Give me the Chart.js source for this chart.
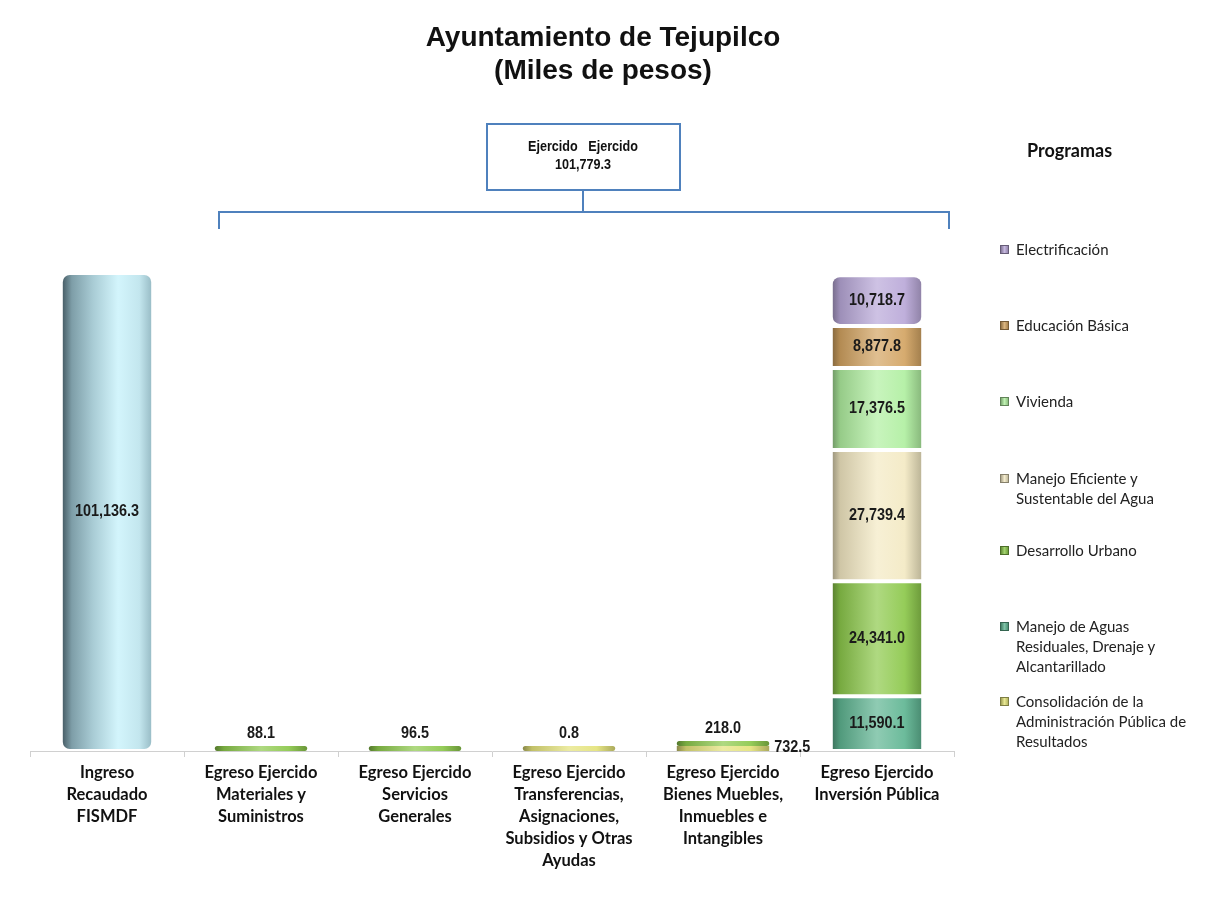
<!DOCTYPE html>
<html>
<head>
<meta charset="utf-8">
<script src="https://cdn.jsdelivr.net/npm/chart.js@4"></script>
<style>
  html,body{margin:0;padding:0;background:#fff;}
  #wrap{position:relative;width:1206px;height:905px;overflow:hidden;}
  #c{position:absolute;left:0;top:0;}
  #title{position:absolute;left:0;top:20px;width:1206px;text-align:center;font-family:"Liberation Sans",Arial,sans-serif;font-weight:bold;font-size:28px;line-height:33px;color:#111;}
  .lg{position:absolute;left:1000px;font-family:Lato,"Open Sans",sans-serif;font-size:15px;color:#222;line-height:20px;}
  .lg .sw{position:absolute;left:0;top:6px;width:7px;height:7px;border:1px solid #666;}
  .lg .tx{position:absolute;left:16px;top:0;white-space:nowrap;}
  #prog{position:absolute;left:1027px;top:139px;font-family:Lato,"Open Sans",sans-serif;font-weight:bold;font-size:18px;color:#111;}
</style>
</head>
<body>
<div id="wrap">
<canvas id="c" width="1206" height="905"></canvas>
<div id="title"></div>
<div id="prog">Programas</div>
<div id="legend"></div>
</div>
<script>
// ---- DATA ----
const titleLines = ["Ayuntamiento de Tejupilco", "(Miles de pesos)"];
const categories = [
  ["Ingreso", "Recaudado", "FISMDF"],
  ["Egreso Ejercido", "Materiales y", "Suministros"],
  ["Egreso Ejercido", "Servicios", "Generales"],
  ["Egreso Ejercido", "Transferencias,", "Asignaciones,", "Subsidios y Otras", "Ayudas"],
  ["Egreso Ejercido", "Bienes Muebles,", "Inmuebles e", "Intangibles"],
  ["Egreso Ejercido", "Inversión Pública"]
];
const totalLabel = ["Ejercido   Ejercido", "101,779.3"];
const ingresoValues      = [101136.3, null, null, null, null, null];
const consolidacionValues = [null, null, null, 0.8, 732.5, null];
const aguasValues        = [null, null, null, null, null, 11590.1];
const desarrolloValues   = [null, 88.1, 96.5, null, 218.0, 24341.0];
const aguaEficienteValues = [null, null, null, null, null, 27739.4];
const viviendaValues     = [null, null, null, null, null, 17376.5];
const educacionValues    = [null, null, null, null, null, 8877.8];
const electrificacionValues = [null, null, null, null, null, 10718.7];

const seriesNames = {
  ingreso: "Ingreso Recaudado FISMDF",
  consolidacion: "Consolidación de la Administración Pública de Resultados",
  aguas: "Manejo de Aguas Residuales, Drenaje y Alcantarillado",
  desarrollo: "Desarrollo Urbano",
  eficiente: "Manejo Eficiente y Sustentable del Agua",
  vivienda: "Vivienda",
  educacion: "Educación Básica",
  electrificacion: "Electrificación"
};

// ---- STYLE ----
const colors = {
  ingreso: "#a9d9e4",
  consolidacion: "#e4e37a",
  aguas: "#5fb592",
  desarrollo: "#8cc84b",
  eficiente: "#f3e9c3",
  vivienda: "#b0efa0",
  educacion: "#d2a462",
  electrificacion: "#b9a8d8"
};

document.getElementById('title').innerHTML = titleLines.join('<br>');

function hexToRgb(h){h=h.replace('#','');return [parseInt(h.substr(0,2),16),parseInt(h.substr(2,2),16),parseInt(h.substr(4,2),16)];}
function mix(h, t){
  const c = hexToRgb(h);
  const r = c.map(v => t<0 ? Math.round(v*(1+t)) : Math.round(v+(255-v)*t));
  return `rgb(${r[0]},${r[1]},${r[2]})`;
}
function cylinder(base, isIngreso){
  return function(ctx){
    const chart = ctx.chart;
    const xs = chart.scales && chart.scales.x;
    if (!chart.chartArea || !xs || ctx.type !== 'data') return base;
    const cx = xs.getPixelForValue(ctx.dataIndex);
    const w = (xs.width / categories.length) * 0.6;
    const g = chart.ctx.createLinearGradient(cx - w/2, 0, cx + w/2, 0);
    if (isIngreso){
      g.addColorStop(0, "#3e525b");
      g.addColorStop(0.12, "#7e9ea8");
      g.addColorStop(0.35, "#a9ccd5");
      g.addColorStop(0.62, "#d3f5fc");
      g.addColorStop(0.85, "#c3e6ee");
      g.addColorStop(1, "#93b7c1");
    } else {
      g.addColorStop(0, mix(base, -0.4));
      g.addColorStop(0.1, mix(base, -0.15));
      g.addColorStop(0.5, mix(base, 0.3));
      g.addColorStop(0.8, mix(base, 0.08));
      g.addColorStop(1, mix(base, -0.25));
    }
    return g;
  };
}

function ds(key, data){
  return {
    label: seriesNames[key],
    data: data,
    backgroundColor: cylinder(colors[key], key === 'ingreso'),
    borderWidth: (c) => (c.raw != null && c.raw > 1000) ? 2 : 0,
    borderColor: "#ffffff",
    borderRadius: 9,
    borderSkipped: false,
    minBarLength: 5,
    categoryPercentage: 1.0,
    barPercentage: 0.6
  };
}

const fmt = v => v.toLocaleString('en-US', {minimumFractionDigits:1, maximumFractionDigits:1});

function drawText(ctx, txt, x, y, align){
  ctx.save();
  ctx.translate(x, y);
  ctx.scale(0.9, 1);
  ctx.textAlign = align;
  ctx.fillText(txt, 0, 0);
  ctx.restore();
}

const labelPlugin = {
  id: 'barLabels',
  afterDatasetsDraw(chart){
    const ctx = chart.ctx;
    ctx.save();
    ctx.font = "bold 16px 'Liberation Sans', Arial, sans-serif";
    ctx.fillStyle = "#1a1a1a";
    ctx.textBaseline = "middle";
    const metas = chart.getSortedVisibleDatasetMetas();
    metas.forEach(meta => {
      const data = chart.data.datasets[meta.index].data;
      meta.data.forEach((el, i) => {
        const v = data[i];
        if (v == null) return;
        const h = Math.abs(el.base - el.y);
        if (h > 20){
          drawText(ctx, fmt(v), el.x, (el.y + el.base)/2, "center");
        } else {
          const above = metas.some(m => m.index > meta.index && chart.data.datasets[m.index].data[i] != null);
          if (above){
            drawText(ctx, fmt(v), el.x + el.width/2 + 5, (el.y + el.base)/2 - 1, "left");
          } else {
            drawText(ctx, fmt(v), el.x, el.y - 12, "center");
          }
        }
      });
    });
    ctx.restore();
  }
};

const bracketPlugin = {
  id: 'bracket',
  afterDraw(chart){
    const ctx = chart.ctx;
    const xs = chart.scales.x;
    const left = xs.getPixelForValue(1) - 42;
    const right = xs.getPixelForValue(5) + 72;
    const mid = 583;
    ctx.save();
    ctx.strokeStyle = "#4f81bd";
    ctx.lineWidth = 2;
    ctx.strokeRect(487, 124, 193, 66);
    ctx.beginPath();
    ctx.moveTo(mid, 190); ctx.lineTo(mid, 212);
    ctx.moveTo(left, 229); ctx.lineTo(left, 212); ctx.lineTo(right, 212); ctx.lineTo(right, 229);
    ctx.stroke();
    ctx.fillStyle = "#111";
    ctx.font = "bold 14px 'Liberation Sans', Arial, sans-serif";
    ctx.textBaseline = "middle";
    drawText(ctx, totalLabel[0], mid, 147, "center");
    drawText(ctx, totalLabel[1], mid, 165, "center");
    ctx.restore();
  }
};

const chart = new Chart(document.getElementById('c'), {
  type: 'bar',
  data: {
    labels: categories,
    datasets: [
      ds('ingreso', ingresoValues),
      ds('consolidacion', consolidacionValues),
      ds('aguas', aguasValues),
      ds('desarrollo', desarrolloValues),
      ds('eficiente', aguaEficienteValues),
      ds('vivienda', viviendaValues),
      ds('educacion', educacionValues),
      ds('electrificacion', electrificacionValues)
    ]
  },
  plugins: [labelPlugin, bracketPlugin],
  options: {
    responsive: false,
    animation: false,
    layout: { padding: { left: 30, right: 252, top: 231, bottom: 28 } },
    plugins: {
      legend: { display: false },
      tooltip: { enabled: false },
      title: { display: false }
    },
    scales: {
      x: {
        stacked: true,
        grid: { offset: true, drawOnChartArea: false, drawTicks: true, tickLength: 6, color: "#d0d0d0" },
        border: { display: true, color: "#d0d0d0", width: 1 },
        ticks: {
          color: "#111",
          padding: 5,
          maxRotation: 0,
          autoSkip: false,
          font: { family: "Lato, 'Open Sans', sans-serif", size: 16.5, weight: 'bold', lineHeight: 1.333 }
        }
      },
      y: {
        stacked: true,
        display: false,
        min: 0,
        max: 110000
      }
    }
  }
});

// ---- HTML legend ----
const legendItems = [
  { key: 'electrificacion', lines: ["Electrificación"], top: 239 },
  { key: 'educacion', lines: ["Educación Básica"], top: 315 },
  { key: 'vivienda', lines: ["Vivienda"], top: 391 },
  { key: 'eficiente', lines: ["Manejo Eficiente y", "Sustentable del Agua"], top: 468 },
  { key: 'desarrollo', lines: ["Desarrollo Urbano"], top: 540 },
  { key: 'aguas', lines: ["Manejo de Aguas", "Residuales, Drenaje y", "Alcantarillado"], top: 616 },
  { key: 'consolidacion', lines: ["Consolidación de la", "Administración Pública de", "Resultados"], top: 691 }
];
const lg = document.getElementById('legend');
legendItems.forEach(it => {
  const d = document.createElement('div');
  d.className = 'lg';
  d.style.top = it.top + 'px';
  const sw = document.createElement('div');
  sw.className = 'sw';
  sw.style.background = `linear-gradient(90deg, ${mix(colors[it.key], -0.3)}, ${mix(colors[it.key], 0.2)}, ${mix(colors[it.key], -0.2)})`;
  sw.style.borderColor = mix(colors[it.key], -0.45);
  const tx = document.createElement('div');
  tx.className = 'tx';
  tx.innerHTML = it.lines.join('<br>');
  d.appendChild(sw); d.appendChild(tx);
  lg.appendChild(d);
});
</script>
</body>
</html>
